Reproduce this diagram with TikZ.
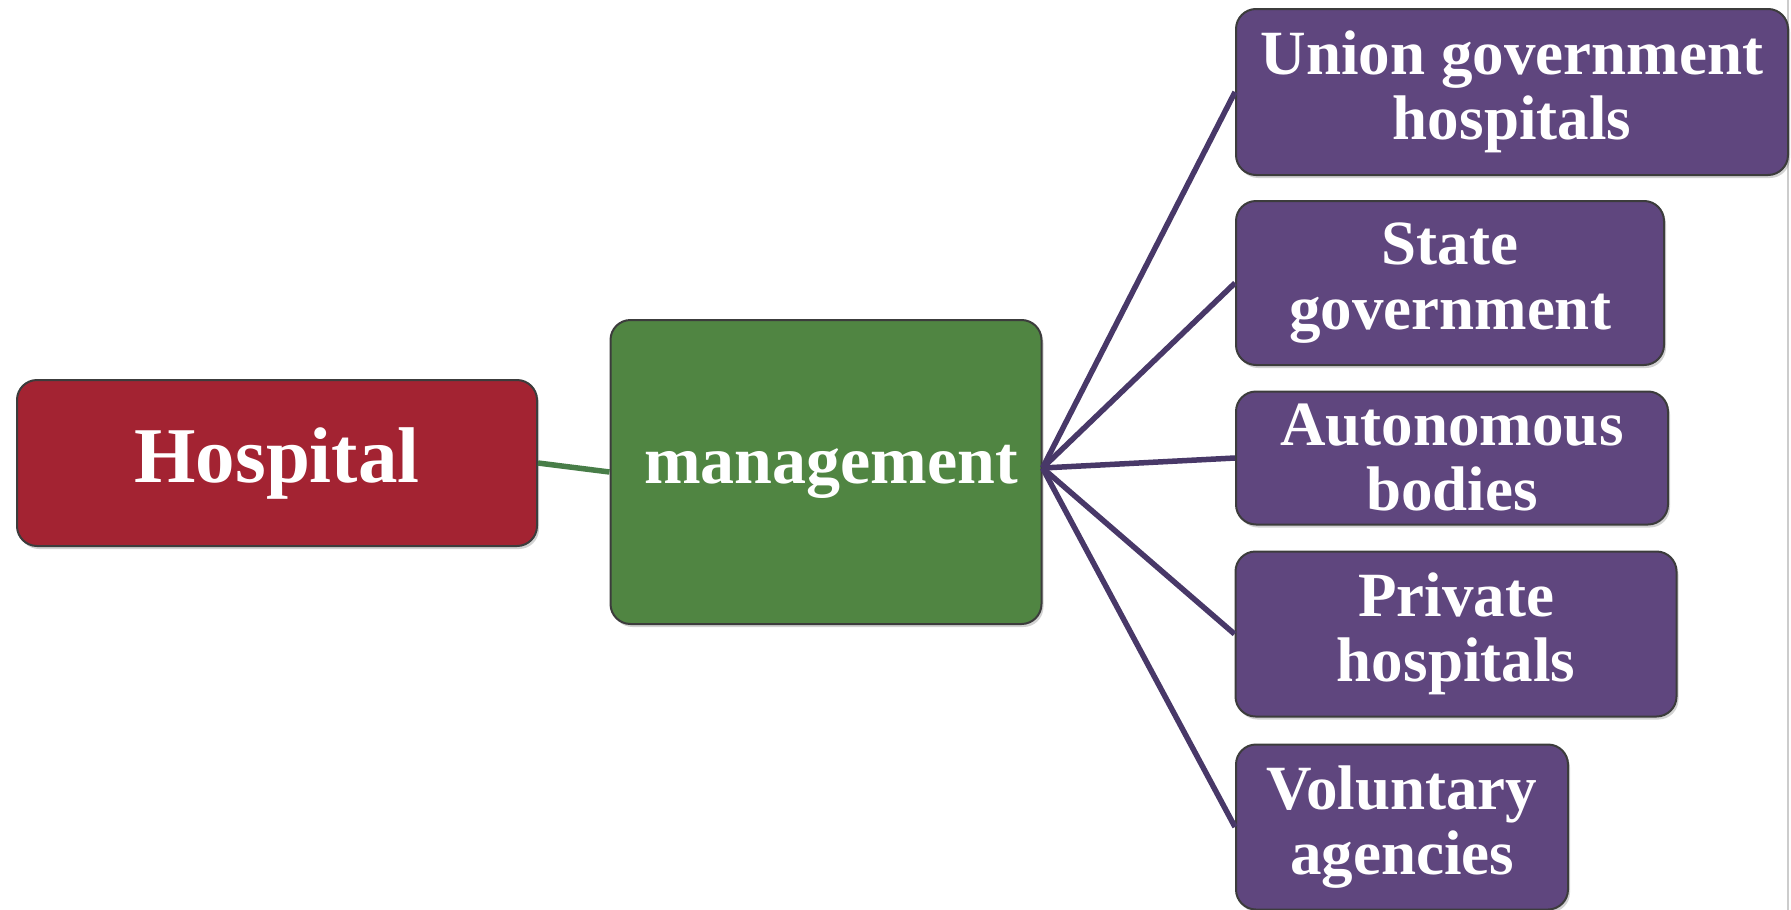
\documentclass[tikz,border=0pt]{standalone}
\usepackage{fontspec}
\setmainfont{Liberation Serif}
\usetikzlibrary{shadows}
\definecolor{hred}{RGB}{163,35,50}
\definecolor{hgreen}{RGB}{80,133,66}
\definecolor{hpurple}{RGB}{95,70,126}
\definecolor{hborder}{RGB}{60,60,60}
\definecolor{plink}{RGB}{72,56,104}
\definecolor{glink}{RGB}{72,125,72}
\tikzset{
  x=1pt, y=-1pt,
  box/.style={draw=hborder, line width=2pt, rounded corners=20pt, inner sep=0pt,
    align=center, text=white, font=\bfseries,
    drop shadow={shadow xshift=2pt, shadow yshift=-3pt, opacity=0.35}},
  redbox/.style={box, fill=hred, font=\bfseries\fontsize{79}{80}\selectfont},
  greenbox/.style={box, fill=hgreen, font=\bfseries\fontsize{68}{70}\selectfont},
  purplebox/.style={box, fill=hpurple, font=\bfseries\fontsize{63}{65}\selectfont},
  plinkstyle/.style={draw=plink, line width=5.5pt},
  glinkstyle/.style={draw=glink, line width=5.5pt}
}
\begin{document}
\begin{tikzpicture}
\useasboundingbox (0,0) rectangle (1791,910);
\fill[white] (0,0) rectangle (1791,910);
\draw[gray!40, line width=1.5pt] (1788,0) -- (1788,910);
\node[redbox, minimum width=520pt, minimum height=166pt] (hosp) at (277,463) {\raisebox{-6pt}{Hospital}};
\node[greenbox, minimum width=431pt, minimum height=304pt] (mgmt) at (826,472) {\hspace*{10pt}management};
\node[purplebox, minimum width=552pt, minimum height=166pt] (union) at (1512,92) {Union government\\hospitals};
\node[purplebox, minimum width=428pt, minimum height=164pt] (state) at (1450,283) {State\\government};
\node[purplebox, minimum width=432pt, minimum height=133pt] (auto) at (1452,458) {Autonomous\\bodies};
\node[purplebox, minimum width=441pt, minimum height=165pt] (priv) at (1456,634) {Private\\hospitals};
\node[purplebox, minimum width=332pt, minimum height=165pt] (vol) at (1402,827) {Voluntary\\agencies};
\coordinate (hub) at ([yshift=4pt]mgmt.east);
\draw[glinkstyle] (hosp.east) -- (mgmt.west);
\foreach \t in {union,state,auto,priv,vol}
  \draw[plinkstyle] (hub) -- (\t.west);
\end{tikzpicture}
\end{document}
